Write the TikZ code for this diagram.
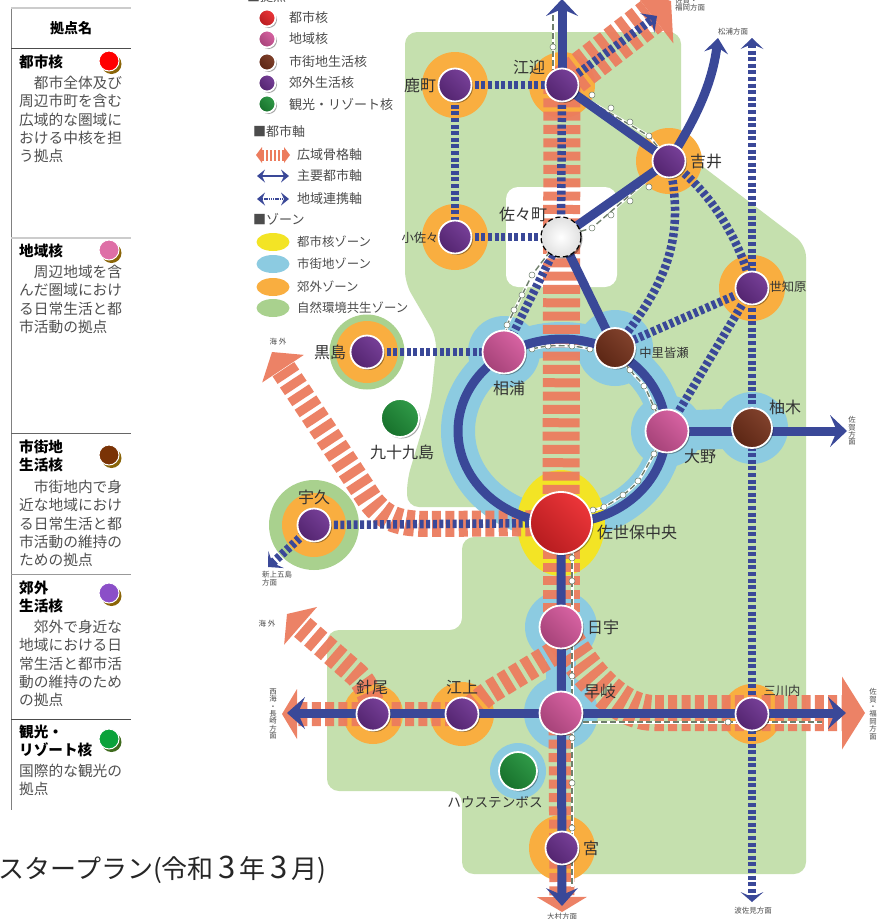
\documentclass[tikz,border=0pt]{standalone}
\usepackage{fontspec}
\setmainfont{Noto Sans CJK JP}
\usetikzlibrary{arrows.meta,shadows,shapes.geometric}

\definecolor{bggreen}{HTML}{C5E0AE}
\definecolor{natgreen}{HTML}{A9D18E}
\definecolor{suborange}{HTML}{F9AE40}
\definecolor{coreyellow}{HTML}{F3E425}
\definecolor{townblue}{HTML}{8CCBE1}
\definecolor{axisblue}{HTML}{3A4898}
\definecolor{salmon}{HTML}{EC7C5E}
\definecolor{redhub}{HTML}{EA2428}
\definecolor{pinkhub}{HTML}{D4559A}
\definecolor{brownhub}{HTML}{76311A}
\definecolor{purplehub}{HTML}{6B2F8F}
\definecolor{greenhub}{HTML}{1E9138}
\definecolor{railgray}{HTML}{6F7F6C}
\definecolor{desctext}{HTML}{505050}

\tikzset{
	fsize/.style={font=\fontsize{#1}{#1}\selectfont},
	hub/.style 2 args={circle,draw=white,line width=1.8pt,inner sep=0pt,minimum size=#2,
			left color=#1!92!white,right color=#1!78!black,shading angle=-45,
			drop shadow={shadow xshift=1.5pt,shadow yshift=-1.5pt,opacity=.35,fill=black}},
	cityhub/.style={hub={redhub}{62pt}},
	areahub/.style={hub={pinkhub}{43pt}},
	townhub/.style={hub={brownhub}{40pt}},
	suburbhub/.style={hub={purplehub}{33pt}},
	resorthub/.style={hub={greenhub}{38pt}},
	station/.style={fsize=#1,text=black!80,inner sep=0pt},
	station/.default=16,
	smalltext/.style={fsize=7.5,text=black!70,inner sep=0pt,align=left},
	stackedtext/.style={font=\fontsize{7.4}{7.4}\selectfont,text=black!70,inner sep=0pt,align=center},
	stripe/.style={draw=salmon,line width=#1,dash pattern=on 9pt off 4.33pt,opacity=.95},
	mainaxis/.style={draw=axisblue,line width=9pt},
	linkaxis/.style={draw=axisblue,line width=8.5pt,dash pattern=on 4pt off 2.6pt},
	rail/.style={white,line width=3pt,postaction={draw,railgray,line width=1.4pt,dash pattern=on 6pt off 3pt}},
	raildot/.style={circle,draw=railgray,fill=white,inner sep=0pt,minimum size=6pt,line width=.5pt},
	legendlabel/.style={fsize=13,anchor=west,text=black!70,inner sep=0pt},
	rowtitle/.style={font=\fontsize{14.6}{18.6}\selectfont\bfseries,anchor=west,align=left,inner sep=0pt},
	rowdesc/.style={font=\fontsize{14.7}{18.3}\selectfont,text=desctext,anchor=north west,align=left,inner sep=0pt},
	rowdot/.style={circle,draw=white,line width=1pt,fill=#1,inner sep=0pt,minimum size=20pt},
	rowshade/.style={circle,fill=#1,inner sep=0pt,minimum size=20pt}
}

\newcommand{\capdigit}{\makebox[26pt]{\fontsize{31}{31}\selectfont 3}}

\begin{document}
\begin{tikzpicture}[x=1pt,y=-1pt]
	\clip (0,0) rectangle (886,919);
	\fill[white] (0,0) rectangle (886,919);

	% positions of the hubs
	\foreach \nm/\x/\y in {kashimachi/455/85,emukae/562/85,yoshii/669/161,sazacho/561/237,kosaza/455/237,
			sechibaru/752/288,kuroshima/367/352,ainoura/504/352,nakazato/615/348,kujukushima/400/418,
			ono/667/431,yunoki/752/428,uku/314/525,chuo/561/523,hiu/561/627,haiki/561/713,
			hario/373/714,egami/462/714,mikawachi/752/714,htb/518/771,miya/562/848}
		\coordinate (\nm) at (\x,\y);
	\coordinate (ringcentre) at (562,431);

	% free ends of the axes
	\foreach \nm/\x/\y in {northend/562/-1,neend/671/1,neblue/657/16,matsuura/718/38,topend/752/38,botend/752/902,
			westsea/272/352,gotoend/268/567,eastsaga/847/431,westend/282/714,westblue/287/713,
			eastend/865/713,eastblue/846/713,southend/562/912,southblue/562/906,nwend/287/614}
		\coordinate (\nm) at (\x,\y);

	% background
	\fill[bggreen,rounded corners=12pt] (405,32) -- (681,32) -- (681,150) -- (806,245) -- (806,874) -- (462,874)
	-- (462,791) -- (327,791) -- (327,630) -- (462,630) -- (462,537) -- (525,537) -- (525,507) -- (407,507)
	-- (407,480) -- (431,400) -- (437,338) -- (405,283) -- cycle;
	\fill[white,rounded corners=12pt] (506,187) rectangle (617,287);

	% zones
	\fill[natgreen] (kuroshima) circle (37.5);
	\fill[natgreen] (uku) circle (45);
	\foreach \nm/\r in {kashimachi/33,emukae/33,yoshii/33,kosaza/33,sechibaru/33,kuroshima/31,uku/32,
			hario/30,egami/32,mikawachi/30,miya/33}
		\fill[suborange] (\nm) circle (\r);
	\draw[townblue,line width=34pt] (ringcentre) ellipse (104 and 92);
	\foreach \nm/\r in {ainoura/36,nakazato/38,ono/36,yunoki/36,hiu/36,haiki/37,htb/28}
		\fill[townblue] (\nm) circle (\r);
	\draw[townblue,line width=40pt] (ono) -- (yunoki);
	\draw[townblue,line width=30pt] (hiu) -- (haiki);
	\fill[coreyellow] (chuo) ellipse (44 and 53);

	% wide axes
	\draw[stripe=37pt] (emukae) -- (chuo);
	\draw[stripe=37pt,-{Triangle[length=24pt,width=70pt,line width=0pt]}] (emukae) -- (neend);
	\draw[stripe=26pt,-{Triangle[length=20pt,width=50pt,line width=0pt]}] (chuo) -- (430,524)
	.. controls (400,524) and (385,520) .. (370,500) -- (westsea);
	\draw[stripe=37pt] (chuo) -- (hiu);
	\draw[stripe=25pt,-{Triangle[length=15pt,width=50pt,line width=0pt]}] (haiki) -- (southend);
	\draw[stripe=36pt,-{Triangle[length=23pt,width=73pt,line width=0pt]}] (566,640)
	.. controls (590,680) and (620,713) .. (655,713) -- (eastend);
	\draw[stripe=24pt,-{Triangle[length=15pt,width=50pt,line width=0pt]}] (556,652) -- (490,692)
	.. controls (478,700) and (470,714) .. (450,714) -- (westend);
	\draw[stripe=25pt,-{Triangle[length=18pt,width=50pt,line width=0pt]}] (hario)
	.. controls (372,700) and (368,686) .. (357,675) -- (nwend);

	% link axes
	\draw[linkaxis] (kashimachi) -- (emukae);
	\draw[linkaxis] (kashimachi) -- (kosaza);
	\draw[linkaxis] (kosaza) -- (sazacho);
	\draw[linkaxis] (emukae) -- (sazacho);
	\draw[linkaxis] (sazacho) -- (ainoura);
	\draw[linkaxis] (kuroshima) -- (ainoura);
	\draw[linkaxis] (uku) -- (chuo);
	\draw[linkaxis] (sechibaru) -- (nakazato);
	\draw[linkaxis] (sechibaru) -- (ono);
	\draw[linkaxis] (yoshii) .. controls (685,235) and (670,280) .. (nakazato);
	\draw[linkaxis] (yoshii) .. controls (710,190) and (740,240) .. (sechibaru);
	\draw[linkaxis,-{Stealth[length=12pt,width=24pt,inset=5pt,line width=0pt]}] (emukae) -- (neblue);
	\draw[linkaxis,-{Stealth[length=11pt,width=23pt,inset=5pt,line width=0pt]}] (uku) -- (gotoend);
	\draw[linkaxis,{Stealth[length=11pt,width=23pt,inset=5pt,line width=0pt]}-{Stealth[length=10pt,width=23pt,inset=5pt,line width=0pt]}] (topend) -- (botend);

	% railway
	\foreach \nm/\x/\y in {r1/553/47,r2/592/95,r3/611/108,r4/630/122,r5/649/136,r6/649/187,r7/630/201,r8/611/215,
			r9/592/228,r10/532/275,r11/522/295,r12/514/310,r13/507/325,r14/532/349,r15/548/346,r16/572/346,
			r17/590/349,r18/630/370,r19/644/386,r20/654/407,r21/654/454,r22/638/481,r23/623/495,r24/604/507,
			r25/593/510,r26/572/558,r27/572/581,r28/572/676,r29/572/738,r30/572/783,r31/572/828,r32/728/722}
		\coordinate (\nm) at (\x,\y);
	\draw[rail] (553,15) -- (r1) -- (553,70);
	\draw[rail] (emukae) -- (r5) -- (yoshii);
	\draw[rail] (yoshii) -- (r9) -- (sazacho);
	\draw[rail] (sazacho) -- (r10) -- (r13) -- (ainoura);
	\draw[rail] plot[smooth] coordinates {(r14) (r15) (r16) (r17)};
	\draw[rail] plot[smooth] coordinates {(nakazato) (r18) (r19) (r20) (ono)};
	\draw[rail] plot[smooth] coordinates {(ono) (r21) (r22) (r23) (r24) (r25)};
	\draw[rail] (r25) -- (chuo);
	\draw[rail] (572,545) -- (572,887);
	\draw[rail] (583,722) -- (822,722);
	\foreach \i in {1,...,32}
		\node[raildot] (dot\i) at (r\i) {};

	% main axes
	\draw[mainaxis,-{Stealth[length=17pt,width=32pt,inset=7pt,line width=0pt]}] (emukae) -- (northend);
	\draw[mainaxis] (emukae) -- (yoshii);
	\draw[mainaxis] (yoshii) -- (sazacho);
	\draw[mainaxis] (sazacho) -- (nakazato);
	\draw[mainaxis,-{Stealth[length=15pt,width=24pt,inset=6pt,line width=0pt]}] (yoshii) .. controls (695,120) and (712,85) .. (matsuura);
	\draw[mainaxis] (ringcentre) ellipse (104 and 92);
	\draw[mainaxis,-{Stealth[length=17pt,width=32pt,inset=7pt,line width=0pt]}] (ono) -- (eastsaga);
	\draw[mainaxis,-{Stealth[length=18pt,width=32pt,inset=7pt,line width=0pt]}] (chuo) -- (southblue);
	\draw[mainaxis,-{Stealth[length=18pt,width=32pt,inset=7pt,line width=0pt]}] (haiki) -- (eastblue);
	\draw[mainaxis,-{Stealth[length=18pt,width=32pt,inset=7pt,line width=0pt]}] (haiki) -- (westblue);

	% hubs
	\node[cityhub] (chuo) at (chuo) {};
	\foreach \nm in {ainoura,ono,hiu,haiki}
		\node[areahub] (\nm) at (\nm) {};
	\foreach \nm in {nakazato,yunoki}
		\node[townhub] (\nm) at (\nm) {};
	\foreach \nm in {kashimachi,emukae,yoshii,kosaza,sechibaru,kuroshima,uku,hario,egami,mikawachi,miya}
		\node[suburbhub] (\nm) at (\nm) {};
	\node[resorthub] (kujukushima) at (kujukushima) {};
	\node[resorthub] (htb) at (htb) {};
	\node[circle,draw=black,dash pattern=on 5pt off 3pt,line width=1.2pt,inner sep=0pt,minimum size=40pt,
		inner color=white,outer color=black!12,drop shadow={shadow xshift=1.5pt,shadow yshift=-1.5pt,opacity=.35,fill=black}] (sazacho) at (sazacho) {};

	% station names
	\node[station] (kashimachilab) at (420,85) {鹿町};
	\node[station] (emukaelab) at (529,67) {江迎};
	\node[station] (yoshiilab) at (706,161) {吉井};
	\node[station] (sazacholab) at (523,214) {佐々町};
	\node[station=12.3] (kosazalab) at (420,238) {小佐々};
	\node[station=12.3] (sechibarulab) at (788,287) {世知原};
	\node[station] (kuroshimalab) at (330,352) {黒島};
	\node[station] (ainouralab) at (509,388) {相浦};
	\node[station=12.3] (nakazatolab) at (664,353) {中里皆瀬};
	\node[station] (kujukushimalab) at (402,452) {九十九島};
	\node[station] (onolab) at (700,456) {大野};
	\node[station] (yunokilab) at (785,407) {柚木};
	\node[station] (ukulab) at (314,497) {宇久};
	\node[station] (chuolab) at (637,532) {佐世保中央};
	\node[station] (hiulab) at (603,627) {日宇};
	\node[station] (haikilab) at (600,691) {早岐};
	\node[station] (hariolab) at (372,687) {針尾};
	\node[station] (egamilab) at (462,687) {江上};
	\node[station=12.3] (mikawachilab) at (782,691) {三川内};
	\node[station=13.6] (htblab) at (495,802) {ハウステンボス};
	\node[station] (miyalab) at (591,848) {宮};

	% direction names
	\node[smalltext,anchor=west] (saganorth) at (675,4) {佐賀・\\福岡方面};
	\node[smalltext] (matsuuralab) at (733,32) {松浦方面};
	\node[smalltext] (seaupper) at (278,342) {海 外};
	\node[smalltext,anchor=north west] (gotolab) at (262,571) {新上五島\\方面};
	\node[smalltext] (sealower) at (267,624) {海 外};
	\node[stackedtext] (saikailab) at (273,714) {西\\海\\・\\長\\崎\\方\\面};
	\node[stackedtext] (sagasouth) at (873,714) {佐\\賀\\・\\福\\岡\\方\\面};
	\node[stackedtext] (sagaeast) at (852,431) {佐\\賀\\方\\面};
	\node[smalltext] (omuralab) at (562,917) {大村方面};
	\node[smalltext] (hasamilab) at (753,911) {波佐見方面};

	% legend
	\node[legendlabel] (kyotenhead) at (247,-3) {■拠点};
	\foreach \y/\c/\t [count=\i] in {18/redhub/都市核,39/pinkhub/地域核,62/brownhub/市街地生活核,83/purplehub/郊外生活核,104/greenhub/観光・リゾート核} {
		\node[hub={\c}{17pt}] (key\i) at (267,\y) {};
		\node[legendlabel] (keylab\i) at (289,\y) {\t};
	}
	\node[legendlabel] (axishead) at (253,132) {■都市軸};
	\foreach \nm/\x/\y in {a1/256/155,b1/290/155,a2/257/176,b2/289/176,a3/257/199,b3/289/199}
		\coordinate (\nm) at (\x,\y);
	\draw[salmon,line width=11pt,dash pattern=on 2.4pt off 1.6pt,{Triangle[length=6pt,width=16pt,line width=0pt]}-{Triangle[length=6pt,width=16pt,line width=0pt]}] (a1) -- (b1);
	\draw[axisblue,line width=2.6pt,{Stealth[length=8pt,width=13pt,inset=3pt,line width=0pt]}-{Stealth[length=8pt,width=13pt,inset=3pt,line width=0pt]}] (a2) -- (b2);
	\draw[axisblue,line width=2.6pt,dash pattern=on 1.4pt off .8pt,{Stealth[length=8pt,width=13pt,inset=3pt,line width=0pt]}-{Stealth[length=8pt,width=13pt,inset=3pt,line width=0pt]}] (a3) -- (b3);
	\foreach \y/\t [count=\i] in {155/広域骨格軸,176/主要都市軸,199/地域連携軸}
		\node[legendlabel] (axislab\i) at (297,\y) {\t};
	\node[legendlabel] (zonehead) at (253,219) {■ゾーン};
	\foreach \y/\c/\t [count=\i] in {242/coreyellow/都市核ゾーン,264/townblue/市街地ゾーン,287/suborange/郊外ゾーン,308/natgreen/自然環境共生ゾーン} {
		\node[ellipse,fill=\c,minimum width=33pt,minimum height=18pt,inner sep=0pt] (zonekey\i) at (273,\y) {};
		\node[legendlabel,fsize=12.4] (zonelab\i) at (297,\y) {\t};
	}

	% table
	\draw[black!50,line width=.8pt] (11,8) -- (11,810);
	\draw[black!20,line width=1.6pt] (11,8) -- (131,8);
	\draw[black!70,line width=.8pt] (11,48) -- (131,48);
	\draw[black!20,line width=1.6pt] (11,238) -- (131,238);
	\draw[black!60,line width=.8pt] (11,433) -- (131,433);
	\draw[black!40,line width=.6pt] (11,574) -- (131,574);
	\draw[black!70,line width=.8pt] (11,719) -- (131,719);
	\node[font=\fontsize{14}{14}\selectfont\bfseries,inner sep=0pt] (tablehead) at (71,28) {拠点名};
	\foreach \y/\c/\d [count=\i] in {61/FF0000/8A6508,250/DE6FA6/8A6508,455/7A3306/8A6508,593/8B4FC8/8A6508,739/0BA23A/3F6B1E} {
		\definecolor{rowcol}{HTML}{\c}
		\definecolor{rowshadecol}{HTML}{\d}
		\node[rowshade=rowshadecol] (rowshade\i) at (111.5,\y+3) {};
		\node[rowdot=rowcol] (rowdot\i) at (109,\y) {};
	}
	\node[rowtitle] (row1) at (19,62) {都市核};
	\node[rowdesc] (desc1) at (19,76) {　都市全体及び\\周辺市町を含む\\広域的な圏域に\\おける中核を担\\う拠点};
	\node[rowtitle] (row2) at (19,251) {地域核};
	\node[rowdesc] (desc2) at (19,265) {　周辺地域を含\\んだ圏域におけ\\る日常生活と都\\市活動の拠点};
	\node[rowtitle] (row3) at (19,456) {市街地\\生活核};
	\node[rowdesc] (desc3) at (19,480) {　市街地内で身\\近な地域におけ\\る日常生活と都\\市活動の維持の\\ための拠点};
	\node[rowtitle] (row4) at (19,597) {郊外\\生活核};
	\node[rowdesc] (desc4) at (19,620) {　郊外で身近な\\地域における日\\常生活と都市活\\動の維持のため\\の拠点};
	\node[rowtitle] (row5) at (19,741) {観光・\\リゾート核};
	\node[rowdesc] (desc5) at (19,764) {国際的な観光の\\拠点};

	% caption
	\node[fsize=26,anchor=west,text=black!85,inner sep=0pt] (caption) at (-1.5,870) {スタープラン(令和\capdigit 年\capdigit 月)};
\end{tikzpicture}
\end{document}
